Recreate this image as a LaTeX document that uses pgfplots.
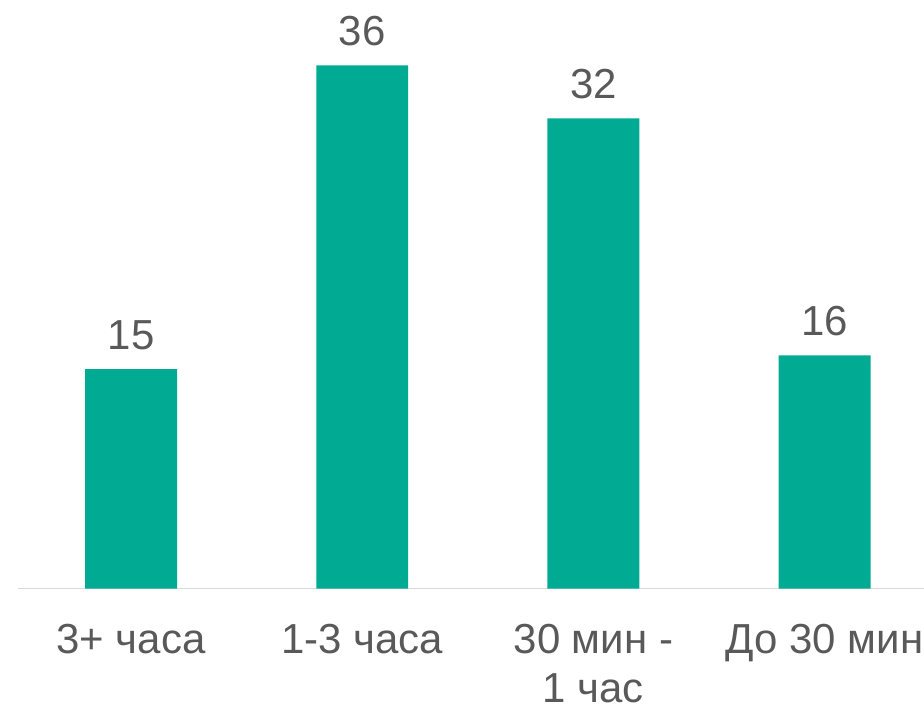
\documentclass[border=0pt]{standalone}
\usepackage{fontspec}
\setmainfont{Liberation Sans}
\usepackage{pgfplots}
\pgfplotsset{compat=1.18}
\definecolor{barc}{HTML}{00AA93}
\definecolor{txt}{HTML}{595959}
\definecolor{axc}{HTML}{D9D9D9}
\begin{document}
\begin{tikzpicture}
\begin{axis}[
  name=ax,
  scale only axis,
  width=906.5pt, height=589pt,
  xmin=-0.489, xmax=3.43,
  ymin=0, ymax=40.5,
  ybar, bar width=92pt,
  axis x line=bottom, axis y line=none,
  axis line style={axc, line width=1.5pt, -},
  x axis line style={-},
  xtick={0,1,2,3},
  xticklabels={{3+ часа},{1-3 часа},{30 мин -\\1 час},{До 30 мин}},
  xtick style={draw=none},
  xticklabel style={font=\fontsize{42}{49}\selectfont, text=txt, align=center, yshift=-30pt},
  point meta=explicit,
  nodes near coords,
  nodes near coords style={font=\fontsize{42}{49}\selectfont, text=txt, yshift=16pt},
  /pgf/number format/assume math mode=true,
  clip=false,
]
\addplot[fill=barc, draw=none] coordinates {(0,15.1) [15] (1,36) [36] (2,32.35) [32] (3,16.05) [16]};
\end{axis}
\pgfresetboundingbox
\path (ax.south west) ++(-18pt,-118pt) rectangle (ax.north east);
\end{tikzpicture}
\end{document}
